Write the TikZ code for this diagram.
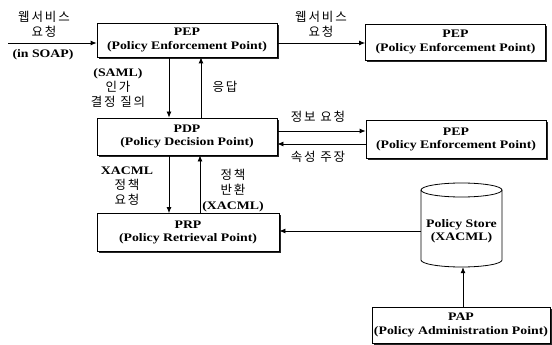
\documentclass[tikz,border=0pt]{standalone}
\usepackage{fontspec}
\setmainfont{Liberation Serif}[FakeStretch=1.2]
\newfontfamily\kr{Noto Sans CJK KR}[LetterSpace=15]
\usetikzlibrary{arrows.meta,shadows}

\tikzset{
  x=1pt, y=1pt,
  box/.style={draw, fill=white, line width=0.8pt, align=center,
    inner sep=0pt, minimum width=180pt,
    font=\fontsize{11.5}{13.5}\selectfont\bfseries,
    drop shadow={shadow xshift=1.6pt, shadow yshift=-1.6pt, fill=black!85, opacity=1}},
  lbl/.style={align=center, inner sep=0pt, font=\kr\fontsize{12.5}{15}\selectfont},
  arr/.style={-{Latex[length=6pt,width=5pt]}, line width=0.8pt},
}
\newcommand{\en}[1]{{\rmfamily\bfseries\fontsize{11.5}{13.5}\selectfont #1}}

\begin{document}
\begin{tikzpicture}
\useasboundingbox (0,0) rectangle (552,-345);

% components
\node[box, minimum height=34pt] (pep1) at (187,-40) {PEP\\(Policy Enforcement Point)};
\node[box, minimum height=36pt] (pep2) at (455.5,-42) {PEP\\(Policy Enforcement Point)};
\node[box, minimum height=37pt] (pdp) at (187,-136.5) {PDP\\(Policy Decision Point)};
\node[box, minimum height=38pt] (pep3) at (456,-139.5) {PEP\\(Policy Enforcement Point)};
\node[box, minimum height=38pt, minimum width=182pt] (prp) at (188,-232.5) {PRP\\(Policy Retrieval Point)};
\node[box, minimum height=36pt, minimum width=178pt] (pap) at (461,-325) {PAP\\(Policy Administration Point)};

% policy store drum
\draw[line width=0.8pt, fill=white]
  (421,-190) -- (421,-260)
  arc[start angle=180, end angle=360, x radius=40.5pt, y radius=7pt]
  -- (502,-190)
  arc[start angle=0, end angle=180, x radius=40.5pt, y radius=7pt] -- cycle;
\draw[line width=0.8pt] (421,-190)
  arc[start angle=180, end angle=360, x radius=40.5pt, y radius=7pt];
\node[inner sep=0pt, minimum width=81pt, minimum height=72pt, align=center,
  font=\fontsize{11.5}{13.5}\selectfont\bfseries] (store) at (461.5,-231)
  {Policy Store\\(XACML)};

% incoming request
\coordinate (src) at (8,-43);
\draw[arr] (src) -- (src -| pep1.west);
\node[lbl] (l1) at (44,-24) {웹서비스\\요청};
\node[lbl] (l1b) at (43,-55) {\en{(in SOAP)}};

% PEP -> PEP
\draw[arr] ([yshift=-3pt]pep1.east) -- ([yshift=-3pt]pep1.east -| pep2.west);
\node[lbl] (l2) at (321,-24) {웹서비스\\요청};

% PEP <-> PDP
\draw[arr] ([xshift=-18pt]pep1.south) -- ([xshift=-18pt]pep1.south |- pdp.north);
\draw[arr] ([xshift=14pt]pdp.north) -- ([xshift=14pt]pdp.north |- pep1.south);
\node[lbl] (l3) at (118,-88) {\en{(SAML)}\\인가\\결정 질의};
\node[lbl] (l4) at (225,-87) {응답};

% PDP <-> PEP
\draw[arr] ([yshift=5.5pt]pdp.east) -- ([yshift=5.5pt]pdp.east -| pep3.west);
\draw[arr] ([yshift=-7.5pt]pdp.east -| pep3.west) -- ([yshift=-7.5pt]pdp.east);
\node[lbl] (l5) at (318,-117) {정보 요청};
\node[lbl] (l6) at (318,-157) {속성 주장};

% PDP <-> PRP
\draw[arr] ([xshift=-18pt]pdp.south) -- ([xshift=-18pt]pdp.south |- prp.north);
\draw[arr] ([xshift=13pt]pdp.south |- prp.north) -- ([xshift=13pt]pdp.south);
\node[lbl] (l7) at (127,-186) {\en{XACML}\\정책\\요청};
\node[lbl] (l8) at (233,-191) {정책\\반환\\\en{(XACML)}};

% store -> PRP, PAP -> store
\draw[arr] (store.west) -- (store.west -| prp.east);
\draw[arr] ([xshift=2pt]pap.north) -- ([xshift=2pt]pap.north |- store.south);
\end{tikzpicture}
\end{document}
